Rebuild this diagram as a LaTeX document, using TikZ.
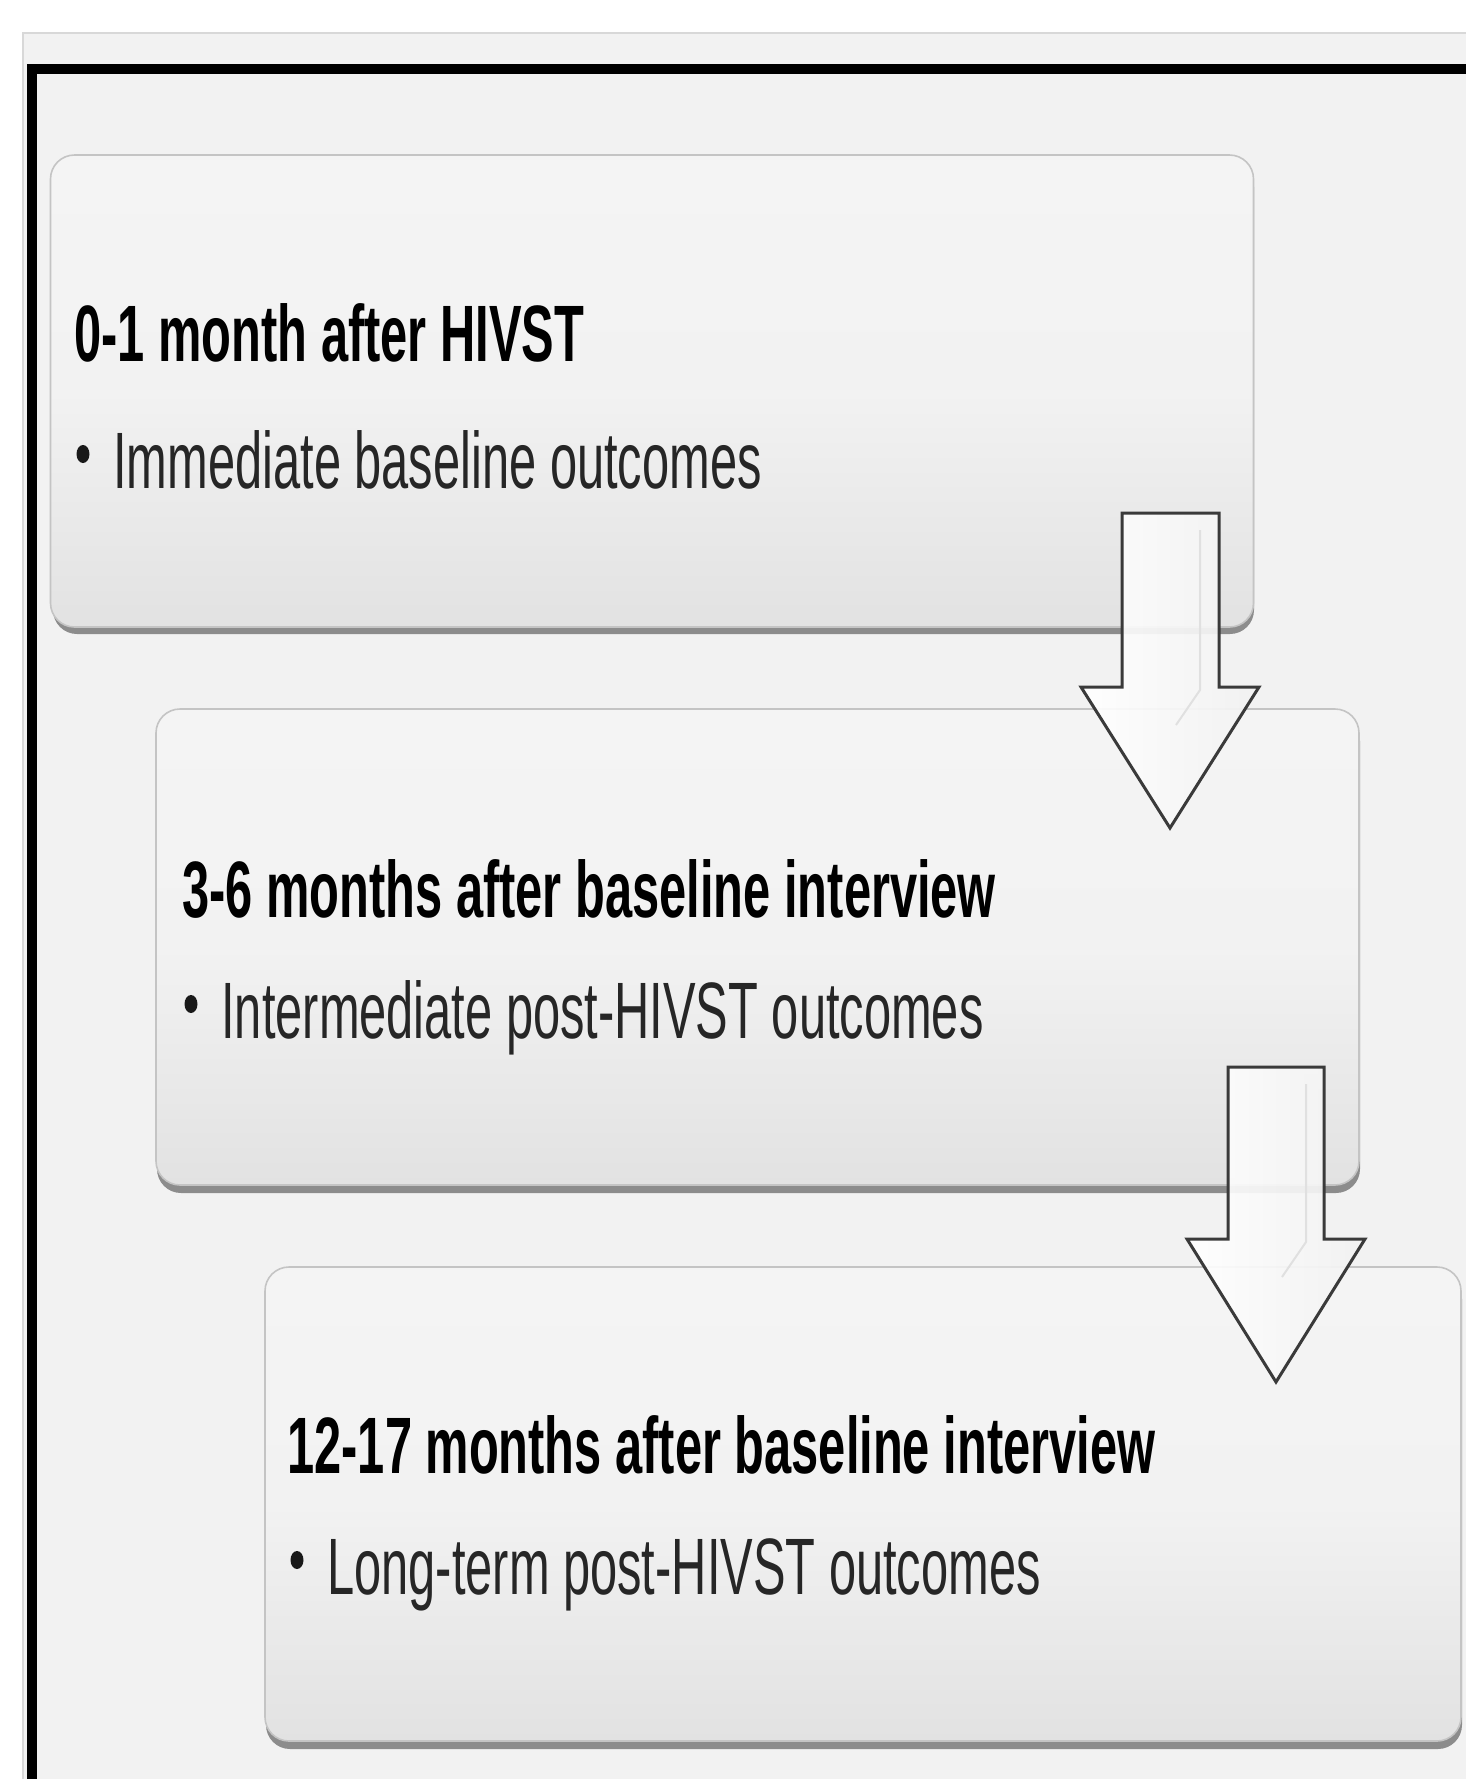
\documentclass[tikz,border=0pt]{standalone}
\usepackage{fontspec}
\setmainfont{Liberation Sans}
\usepackage{graphicx}
\usetikzlibrary{shapes.geometric}
\definecolor{bgc}{HTML}{F2F2F2}
\definecolor{boxtop}{HTML}{F4F4F4}
\definecolor{boxbot}{HTML}{E2E2E2}
\definecolor{boxedge}{HTML}{C4C4C4}
\definecolor{shadowc}{HTML}{8C8C8C}
\definecolor{arrowedge}{HTML}{3A3A3A}
\definecolor{framec}{HTML}{D8D8D8}
\tikzset{
  stagebox/.style={rounded corners=12pt, draw=boxedge, line width=0.8pt, top color=boxtop, bottom color=boxbot, middle color=bgc},
  stageshadow/.style={rounded corners=12pt, fill=shadowc},
  title/.style={anchor=base west, inner sep=0pt, font=\fontsize{40pt}{48pt}\selectfont\bfseries, text=black},
  bodytext/.style={anchor=base west, inner sep=0pt, font=\fontsize{40pt}{48pt}\selectfont, text=black!85},
  bulletdot/.style={ellipse, fill=black!90, inner sep=0pt, minimum width=6.5pt, minimum height=9pt},
  blockarrow/.style={draw=arrowedge, line width=1.5pt, line join=miter, left color=white, right color=bgc, fill opacity=0.92},
}
\newcommand{\cond}[1]{\scalebox{0.61}[1]{#1}}
\begin{document}
\begin{tikzpicture}[x=0.5pt,y=-0.5pt]
\useasboundingbox (0,0) rectangle (1466,1779);
\fill[white] (0,0) rectangle (1466,1779);
\begin{scope}
\clip (0,0) rectangle (1466,1779);
\fill[bgc] (23,33) rectangle (1480,1800);
\draw[framec, line width=0.8pt] (23,1800) -- (23,33) -- (1480,33);
\draw[black, line width=5pt] (32,1800) -- (32,69) -- (1480,69);

% box 1
\fill[stageshadow] (53,163) rectangle (1254,634);
\node[stagebox, minimum width=601.5pt, minimum height=236pt, inner sep=0pt] (b1) at (652,391) {};
% box 2
\fill[stageshadow] (157,717) rectangle (1360,1193);
\node[stagebox, minimum width=601.5pt, minimum height=238pt, inner sep=0pt] (b2) at (757.5,947) {};
% box 3
\fill[stageshadow] (266,1275) rectangle (1462,1749);
\node[stagebox, minimum width=598pt, minimum height=237pt, inner sep=0pt] (b3) at (863,1504) {};

% texts
\node[title] (t1) at (74,361) {\cond{0-1 month after HIVST}};
\node[bulletdot] (u1) at (83,454) {};
\node[bodytext] (s1) at (113,488) {\cond{Immediate baseline outcomes}};

\node[title] (t2) at (182,917) {\cond{3-6 months after baseline interview}};
\node[bulletdot] (u2) at (191,1004) {};
\node[bodytext] (s2) at (221,1038) {\cond{Intermediate post-HIVST outcomes}};

\node[title] (t3) at (287,1473) {\cond{12-17 months after baseline interview}};
\node[bulletdot] (u3) at (297,1560) {};
\node[bodytext] (s3) at (327,1594) {\cond{Long-term post-HIVST outcomes}};

% arrows
\draw[blockarrow] (1122,513) -- (1219,513) -- (1219,687) -- (1259,687) -- (1170,828) -- (1081,687) -- (1122,687) -- cycle;
\draw[black!12, line width=1pt] (1200,530) -- (1200,690) -- (1176,725);
\draw[blockarrow] (1228,1067) -- (1324,1067) -- (1324,1239) -- (1365,1239) -- (1276,1382) -- (1187,1239) -- (1228,1239) -- cycle;
\draw[black!12, line width=1pt] (1306,1084) -- (1306,1242) -- (1282,1277);
\end{scope}
\end{tikzpicture}
\end{document}
